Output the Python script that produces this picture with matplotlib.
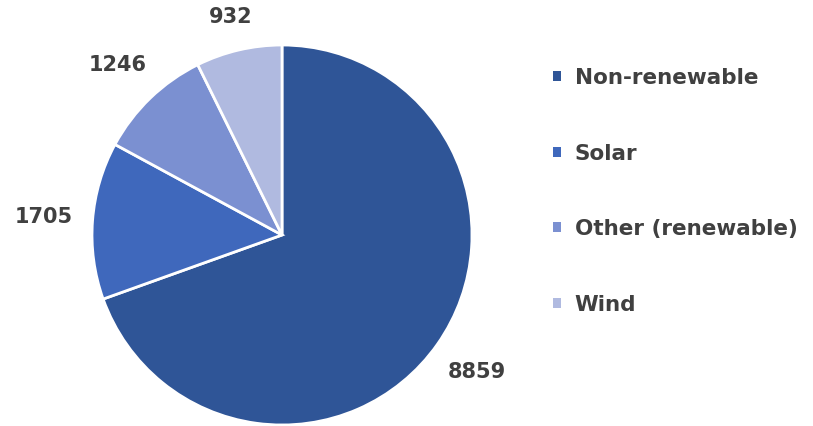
import numpy as np
import matplotlib
matplotlib.use("Agg")
import matplotlib.pyplot as plt
from matplotlib.patches import Patch

categories = ["Non-renewable", "Solar", "Other (renewable)", "Wind"]
values = [8859, 1705, 1246, 932]
colors = ["#2F5597", "#3F68BC", "#7B90D1", "#B0BAE0"]

text_color = "#404040"
plt.rcParams["font.family"] = ["DejaVu Sans"]

W, H, DPI = 813, 426, 100
fig = plt.figure(figsize=(W / DPI, H / DPI), dpi=DPI)

# pie occupies a square region on the left
cx, cy, r = 282, 235, 190
ax = fig.add_axes([(cx - r) / W, (H - cy - r) / H, 2 * r / W, 2 * r / H])
wedges, _ = ax.pie(values, colors=colors, startangle=90, counterclock=False,
                   radius=1.0, wedgeprops=dict(edgecolor="white", linewidth=2.0))
ax.set_xlim(-1, 1)
ax.set_ylim(-1, 1)
ax.set_aspect("auto")
ax.axis("off")

# value labels outside each wedge, a fixed gap beyond the rim
gap_px = 19
renderer = fig.canvas.get_renderer()
for w, v in zip(wedges, values):
    ang = np.deg2rad((w.theta1 + w.theta2) / 2)
    t = ax.text(0, 0, f"{v}", ha="center", va="center", fontsize=15,
                fontweight="bold", color=text_color, clip_on=False)
    bb = t.get_window_extent(renderer)
    hw, hh = bb.width / 2, bb.height / 2
    ext = abs(np.cos(ang)) * hw + abs(np.sin(ang)) * hh
    d = 1 + (gap_px + ext) / r
    t.set_position((d * np.cos(ang), d * np.sin(ang)))

handles = [Patch(facecolor=c, edgecolor="none") for c in colors]
fs = 15.5
fig.legend(handles, categories, loc="upper left",
           bbox_to_anchor=(553 / W, 1 - 68 / H), frameon=False,
           labelcolor=text_color, prop=dict(weight="bold", size=fs),
           handlelength=0.35, handleheight=0.35, handletextpad=0.65,
           labelspacing=2.58, borderaxespad=0, borderpad=0)

fig.savefig("out.png", dpi=DPI, facecolor="white")
